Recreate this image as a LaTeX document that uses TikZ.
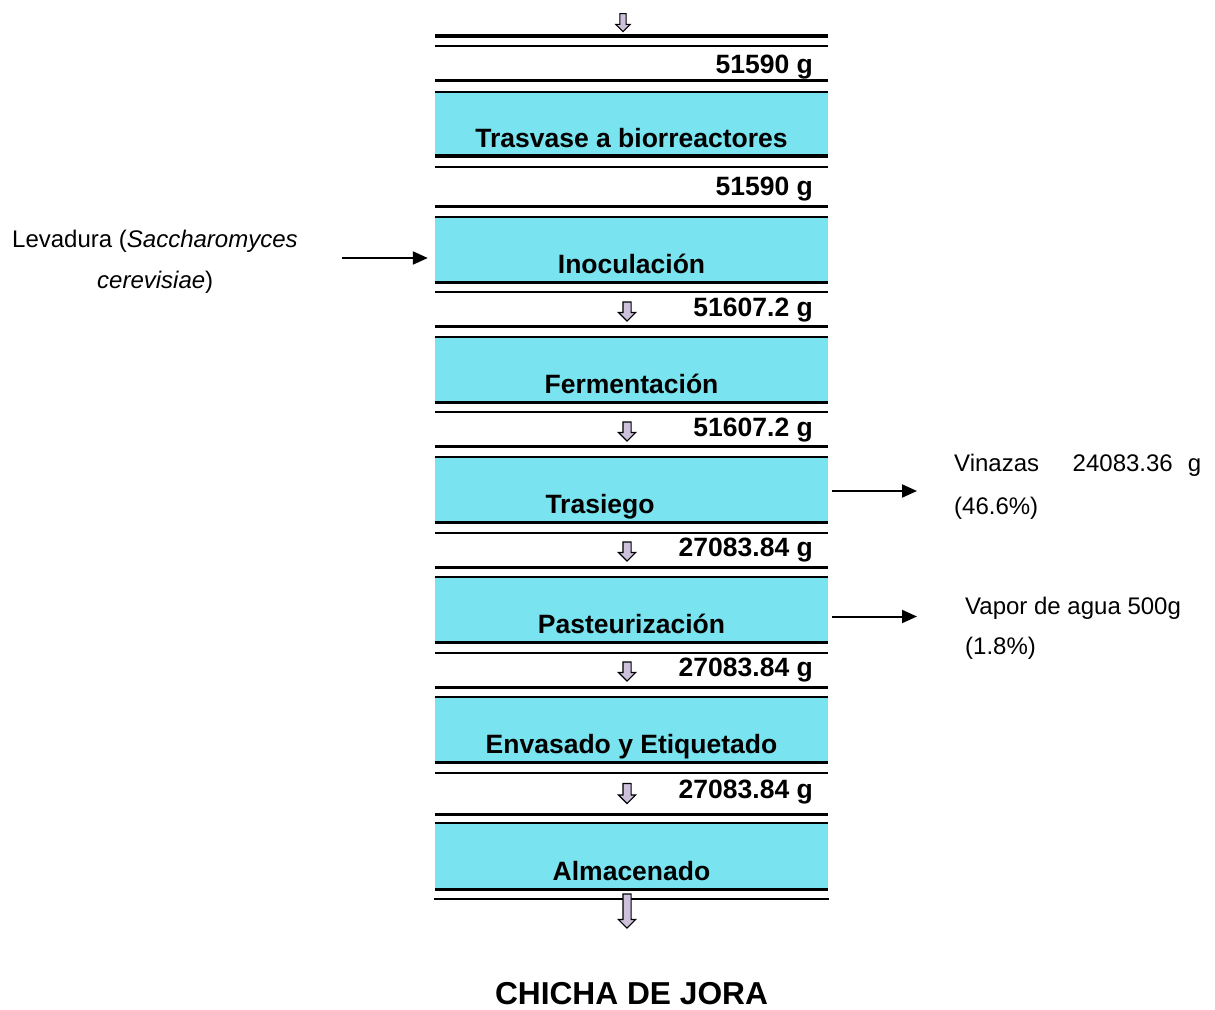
\documentclass[tikz,border=0pt]{standalone}
\usepackage{fontspec}
\setmainfont{Liberation Sans}
\usetikzlibrary{arrows.meta,shapes.arrows,calc}
\definecolor{stepcyan}{RGB}{121,227,239}
\definecolor{flowlav}{RGB}{204,192,218}

% process stage: name, top y, bottom y, label x, label
\newcommand{\procbox}[5]{%
  \node[stepbox, minimum height={#3-#2}] (#1) at (631.5,#2) {};
  \draw[thinrule] (#1.north west) -- (#1.north east);
  \draw[thickrule] (#1.south west) -- (#1.south east);
  \node[boldlbl, anchor=base] (#1-text) at (#4,#3-8.5) {#5};
}
% mass band between stages: name, top y, bottom y, label baseline, label
\newcommand{\massband}[5]{%
  \node[bandbox, minimum height={#3-#2}] (#1) at (631.5,#2) {};
  \draw[thinrule] (#1.north west) -- (#1.north east);
  \draw[thickrule] (#1.south west) -- (#1.south east);
  \node[boldlbl, anchor=base east] (#1-text) at (813,#4) {#5};
}

\begin{document}
\begin{tikzpicture}[x=1pt,y=-1pt,
  stepbox/.style={rectangle, fill=stepcyan, inner sep=0pt, minimum width=393pt, anchor=north},
  bandbox/.style={rectangle, inner sep=0pt, minimum width=393pt, anchor=north},
  thickrule/.style={line width=3.4pt},
  thinrule/.style={line width=1.7pt},
  boldlbl/.style={font=\fontsize{26.5}{30}\selectfont\bfseries, inner sep=0pt},
  plainlbl/.style={font=\fontsize{24}{28}\selectfont, inner sep=0pt, anchor=base west},
  titlelbl/.style={font=\fontsize{31.7}{36}\selectfont\bfseries, inner sep=0pt, anchor=base},
  flowarrow/.style={single arrow, shape border rotate=270, draw=black, line width=1.1pt,
    fill=flowlav, inner sep=3.5pt, single arrow head extend=4.5pt},
  sidearrow/.style={line width=2pt, -{Triangle[length=15pt,width=13pt]}},
]
\useasboundingbox (0,0) rectangle (1215,1009);

% incoming stream
\node[flowarrow, inner sep=2.6pt, single arrow head extend=4pt, minimum height=18pt] (inflow) at (623,21) {};
\draw[thickrule] (435,36) -- (828,36);

\massband{m0}{46}{80}{73}{51590 g}
\procbox{trasvase}{92}{155.5}{631.5}{Trasvase a biorreactores}
\massband{m1}{167}{206}{195.5}{51590 g}
\procbox{inoc}{217}{282}{631.5}{Inoculación}
\massband{m2}{292}{326}{316.5}{51607.2 g}
\procbox{ferm}{337}{402}{631.5}{Fermentación}
\massband{m3}{412}{446}{436.5}{51607.2 g}
\procbox{trasiego}{457}{522}{600}{Trasiego}
\massband{m4}{533}{567}{556.5}{27083.84 g}
\procbox{pasteur}{577}{642}{631.5}{Pasteurización}
\massband{m5}{653}{687}{676.5}{27083.84 g}
\procbox{envasado}{697}{762}{631.5}{Envasado y Etiquetado}
\massband{m6}{773}{814}{798}{27083.84 g}
\procbox{almacen}{823}{889}{631.5}{Almacenado}
\draw[thinrule] (434,899) -- (829,899);

% flow arrows inside the mass bands
\node[flowarrow, minimum height=19pt] (f2) at (627,309.5) {};
\node[flowarrow, minimum height=19pt] (f3) at (627,429.5) {};
\node[flowarrow, minimum height=19pt] (f4) at (627,549.5) {};
\node[flowarrow, minimum height=19pt] (f5) at (627,669.5) {};
\node[flowarrow, minimum height=20pt] (f6) at (627,791.5) {};
\node[flowarrow, minimum height=34pt] (outflow) at (627,909) {};

% yeast input
\node[plainlbl] (lev1) at (12,247.5) {Levadura (\textit{Saccharomyces}};
\node[plainlbl] (lev2) at (97,288.5) {\textit{cerevisiae})};
\coordinate (levstart) at (342,258);
\draw[sidearrow, shorten >=7pt] (levstart) -- (inoc.west |- levstart);

% by-products
\coordinate (vinend) at (917,491);
\draw[sidearrow, shorten <=4pt] (trasiego.east |- vinend) -- (vinend);
\node[plainlbl] (vin1) at (954,471.5) {Vinazas\hspace{33.6pt}24083.36\hspace{15pt}g};
\node[plainlbl] (vin2) at (954,514) {(46.6\%)};

\coordinate (vapend) at (917,616.5);
\draw[sidearrow, shorten <=4pt] (pasteur.east |- vapend) -- (vapend);
\node[plainlbl] (vap1) at (965,614.5) {Vapor de agua 500g};
\node[plainlbl] (vap2) at (965,654) {(1.8\%)};

% product
\node[titlelbl] (product) at (631.5,1004) {CHICHA DE JORA};
\end{tikzpicture}
\end{document}
